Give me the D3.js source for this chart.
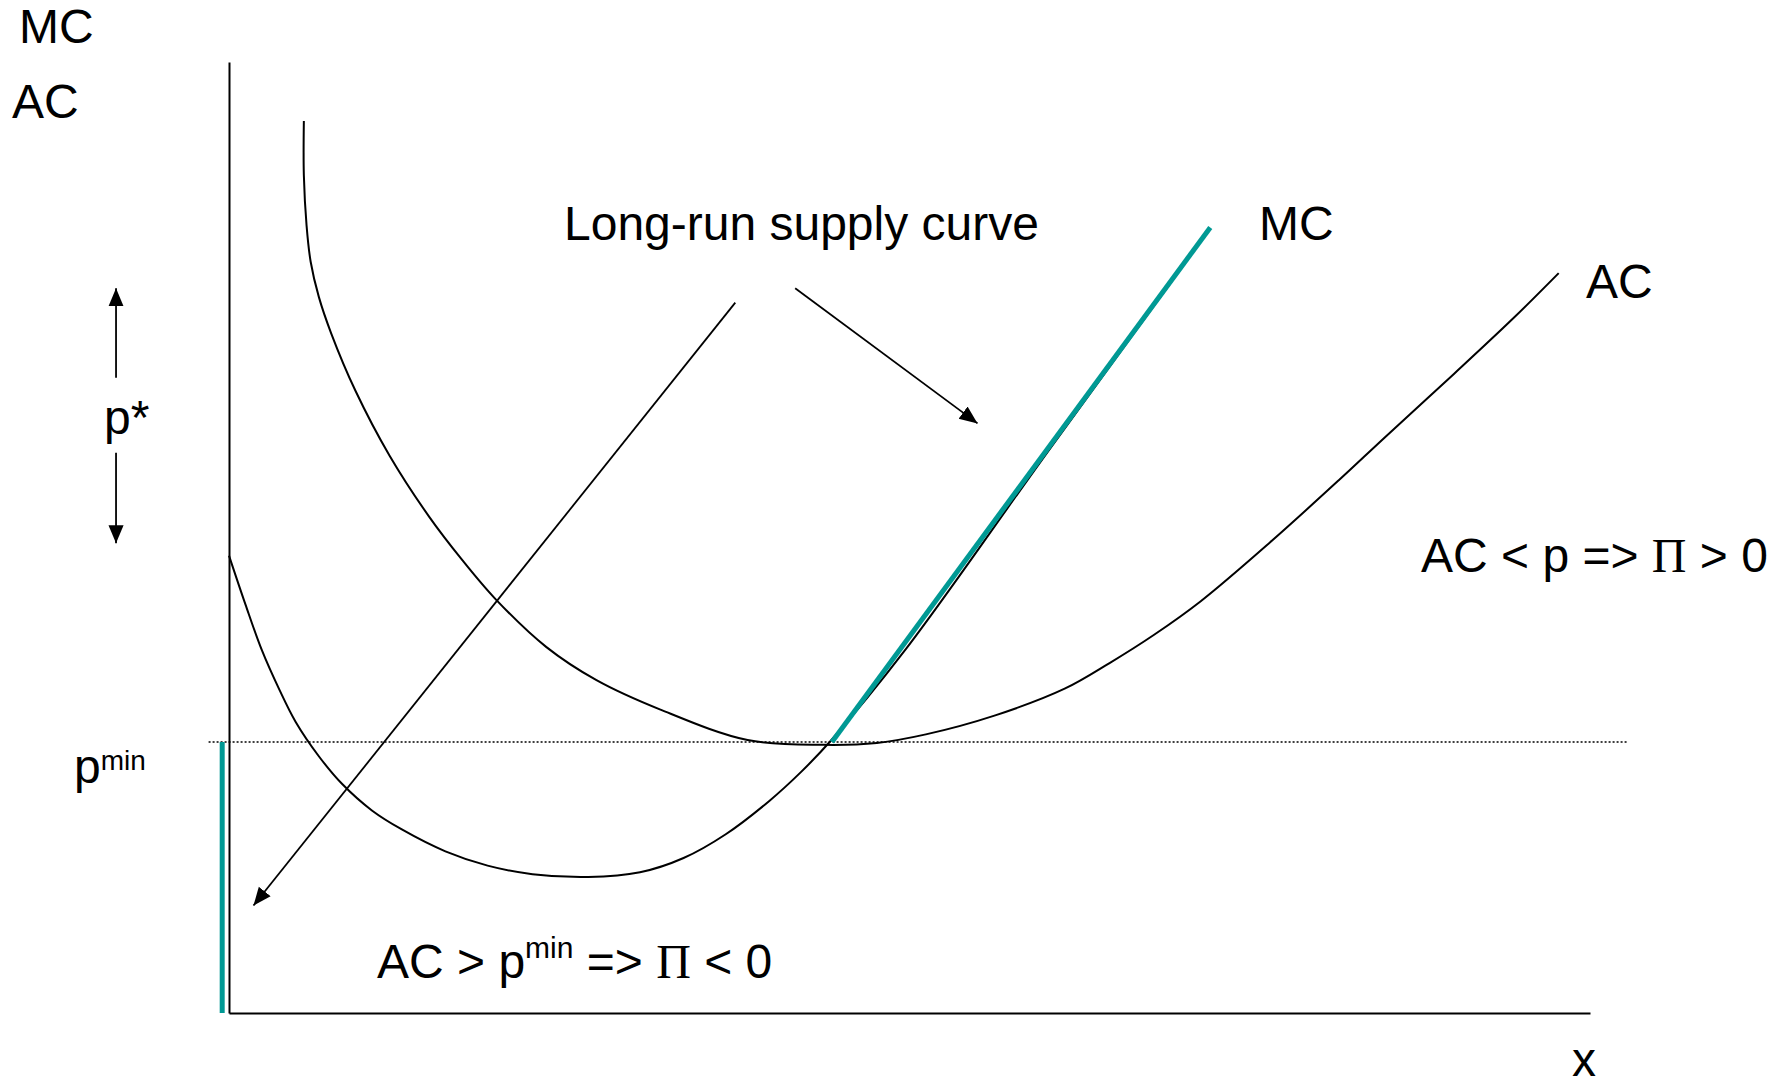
<!DOCTYPE html>
<html>
<head>
<meta charset="utf-8">
<script src="https://cdn.jsdelivr.net/npm/d3@7"></script>
<style>
    html, body { margin: 0; padding: 0; background: #fff; }
    svg text { font-family: "Liberation Sans", Arial, sans-serif; fill: #000; }
</style>
</head>
<body>
<div id="chart"></div>
<script>
// Long-run supply: MC / AC cost curves

// Average cost curve (quantity, cost)
const acX = [0.55, 0.55, 0.57, 0.60, 0.66, 0.75, 0.93, 1.18, 1.47, 1.71, 1.96, 2.33, 2.70, 3.17, 3.81, 4.37,
    4.76, 5.12, 5.63, 6.14, 6.47, 6.80, 7.14, 7.65, 8.16, 8.49, 9.00, 9.44, 9.77];
const acY = [9.38, 8.81, 8.28, 7.90, 7.53, 7.15, 6.54, 5.86, 5.22, 4.77, 4.35, 3.85, 3.50, 3.19, 2.87, 2.82,
    2.84, 2.93, 3.13, 3.41, 3.68, 3.98, 4.33, 4.95, 5.61, 6.05, 6.72, 7.31, 7.78];

// Marginal cost curve
const mcX = [0.00, 0.12, 0.24, 0.37, 0.49, 0.66, 0.83, 1.05, 1.27, 1.59, 1.90, 2.23, 2.64, 3.02, 3.34, 3.65,
    3.97, 4.20, 4.42, 4.97, 6.03, 7.21];
const mcY = [4.81, 4.30, 3.82, 3.40, 3.06, 2.70, 2.41, 2.13, 1.93, 1.70, 1.55, 1.46, 1.43, 1.48, 1.63, 1.88,
    2.23, 2.53, 2.86, 3.82, 5.93, 8.25];

// Minimum price and the long-run supply segments
const pMin = 2.85;
const supplyX = [4.43, 7.21];
const supplyY = [pMin, 8.26];
const zeroSupplyX = [-0.05, -0.05];
const zeroSupplyY = [0, pMin];

function drawChart() {
    const W = 1787, H = 1089;

    const svg = d3.select('#chart').append('svg')
        .attr('width', W)
        .attr('height', H);

    const x = d3.scaleLinear().domain([0, 10]).range([229, 1590]);
    const y = d3.scaleLinear().domain([0, 10]).range([1013, 62]);

    // arrow head
    svg.append('defs').append('marker')
        .attr('id', 'head')
        .attr('viewBox', '0 -5 10 10')
        .attr('refX', 10)
        .attr('refY', 0)
        .attr('markerUnits', 'userSpaceOnUse')
        .attr('markerWidth', 18)
        .attr('markerHeight', 18)
        .attr('orient', 'auto')
        .append('path')
        .attr('d', 'M0,-4.2L10,0L0,4.2Z')
        .attr('fill', '#000');

    // Axes (no ticks)
    svg.append('g')
        .attr('transform', `translate(0,${y(0)})`)
        .call(d3.axisBottom(x).ticks(0).tickSizeOuter(0))
        .select('.domain')
        .attr('stroke', '#000')
        .attr('stroke-width', 2);

    svg.append('g')
        .attr('transform', `translate(${x(0)},0)`)
        .call(d3.axisLeft(y).ticks(0).tickSizeOuter(0))
        .select('.domain')
        .attr('stroke', '#000')
        .attr('stroke-width', 2);

    const line = d3.line()
        .x(d => x(d[0]))
        .y(d => y(d[1]))
        .curve(d3.curveCatmullRom.alpha(0.5));

    const straight = d3.line()
        .x(d => x(d[0]))
        .y(d => y(d[1]));

    // p min dotted line
    svg.append('path')
        .attr('d', straight([[-0.15, pMin], [10.28, pMin]]))
        .attr('fill', 'none')
        .attr('stroke', '#000')
        .attr('stroke-width', 1.5)
        .attr('stroke-dasharray', '2,2');

    // supply segment on the price axis (teal)
    svg.append('path')
        .attr('d', straight(d3.zip(zeroSupplyX, zeroSupplyY)))
        .attr('fill', 'none')
        .attr('stroke', '#009994')
        .attr('stroke-width', 5);

    // cost curves
    svg.append('path')
        .attr('d', line(d3.zip(mcX, mcY)))
        .attr('fill', 'none')
        .attr('stroke', '#000')
        .attr('stroke-width', 2);

    svg.append('path')
        .attr('d', line(d3.zip(acX, acY)))
        .attr('fill', 'none')
        .attr('stroke', '#000')
        .attr('stroke-width', 2);

    svg.append('path')
        .attr('d', straight(d3.zip(supplyX, supplyY)))
        .attr('fill', 'none')
        .attr('stroke', '#009994')
        .attr('stroke-width', 5);

    // arrows
    const arrows = [
        [[3.72, 7.47], [0.18, 1.13]],
        [[4.16, 7.62], [5.50, 6.20]],
        [[-0.83, 6.68], [-0.83, 7.62]],
        [[-0.83, 5.89], [-0.83, 4.94]]
    ];
    svg.selectAll('.arrow')
        .data(arrows)
        .enter()
        .append('path')
        .attr('class', 'arrow')
        .attr('d', d => straight(d))
        .attr('fill', 'none')
        .attr('stroke', '#000')
        .attr('stroke-width', 1.8)
        .attr('marker-end', 'url(#head)');

    // labels
    function label(px, py, parts) {
        const t = svg.append('text')
            .attr('x', px)
            .attr('y', py)
            .attr('font-size', '48px');
        parts.forEach(p => {
            const s = t.append('tspan').text(p.text);
            if (p.serif) s.style('font-family', '"Liberation Serif", "Times New Roman", serif');
            if (p.sup) s.attr('font-size', p.size || '30px').attr('dy', -p.sup);
            if (p.down) s.attr('dy', p.down);
        });
        return t;
    }

    label(19, 43, [{ text: 'MC' }]);
    label(12, 118, [{ text: 'AC' }]);
    label(564, 240, [{ text: 'Long-run supply curve' }]);
    label(1259, 240, [{ text: 'MC' }]);
    label(1586, 298, [{ text: 'AC' }]);
    label(104, 434, [{ text: 'p*' }]);
    label(74, 783, [{ text: 'p' }, { text: 'min', sup: 13, size: '28px' }]);
    label(1421, 572, [{ text: 'AC < p => ' }, { text: 'Π', serif: true }, { text: ' > 0' }]);
    label(377, 978, [{ text: 'AC > p' }, { text: 'min', sup: 20 }, { text: ' => ', down: 20 },
        { text: 'Π', serif: true }, { text: ' < 0' }]);
    label(1572, 1076, [{ text: 'x' }]);
}

drawChart();
</script>
</body>
</html>
